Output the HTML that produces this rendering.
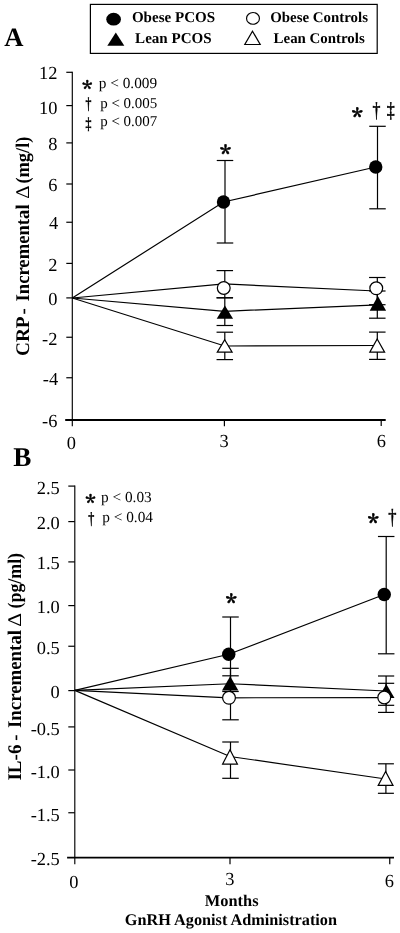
<!DOCTYPE html>
<html lang="en"><head><meta charset="utf-8"><title>Figure</title>
<style>html,body{margin:0;padding:0;background:#fff;}svg{display:block;}text{font-family:"Liberation Serif", "DejaVu Serif", serif;fill:#000;text-rendering:geometricPrecision;}.b{font-weight:bold;}.st{font-family:"Noto Serif CJK SC","Liberation Serif",serif;stroke:#000;stroke-width:0.5;stroke-linejoin:round;}.ln{stroke:#000;stroke-width:1.2;fill:none;}.eb{stroke:#000;stroke-width:1.2;fill:none;}</style></head><body>
<svg width="400" height="933" viewBox="0 0 400 933">
<rect x="0" y="0" width="400" height="933" fill="#fff"/>
<rect x="90.4" y="4.4" width="286.8" height="49" fill="#fff" stroke="#000" stroke-width="1.2"/>
<ellipse cx="113.6" cy="19.2" rx="7.35" ry="6.4" fill="#000"/>
<polygon points="115.8,32.4 124.3,45.7 107.3,45.7" fill="#000"/>
<ellipse cx="253" cy="18.4" rx="6.45" ry="5.85" fill="#fff" stroke="#000" stroke-width="1.15"/>
<polygon points="252.5,31.2 260.2,44.5 244.8,44.5" fill="#fff" stroke="#000" stroke-width="1.2" stroke-linejoin="miter"/>
<text x="131.9" y="22.4" font-size="15.05" text-anchor="start" class="b">Obese PCOS</text>
<text x="135.1" y="42.8" font-size="15.05" text-anchor="start" class="b">Lean PCOS</text>
<text x="270.2" y="22.4" font-size="14.9" text-anchor="start" class="b">Obese Controls</text>
<text x="273.6" y="42.6" font-size="14.9" text-anchor="start" class="b">Lean Controls</text>
<text x="4.3" y="45.7" font-size="26.6" text-anchor="start" class="b">A</text>
<text x="13.3" y="465.5" font-size="27.2" text-anchor="start" class="b">B</text>
<line x1="72.3" y1="71.7" x2="72.3" y2="426.2" class="ln" style="stroke-width:1.15"/>
<line x1="65.2" y1="420" x2="385.7" y2="420" class="ln" style="stroke-width:1.9"/>
<line x1="66.3" y1="72.3" x2="72.3" y2="72.3" class="ln" style="stroke-width:1.2"/>
<text x="57.4" y="79.4" font-size="18.4" text-anchor="end">12</text>
<line x1="66.3" y1="105.6" x2="72.3" y2="105.6" class="ln" style="stroke-width:1.2"/>
<text x="57.4" y="113.75" font-size="18.4" text-anchor="end">10</text>
<line x1="66.3" y1="142.9" x2="72.3" y2="142.9" class="ln" style="stroke-width:1.2"/>
<text x="57.4" y="150.25" font-size="18.4" text-anchor="end">8</text>
<line x1="66.3" y1="184" x2="72.3" y2="184" class="ln" style="stroke-width:1.2"/>
<text x="57.4" y="191.25" font-size="18.4" text-anchor="end">6</text>
<line x1="66.3" y1="222.25" x2="72.3" y2="222.25" class="ln" style="stroke-width:1.2"/>
<text x="58.1" y="229" font-size="18.4" text-anchor="end">4</text>
<line x1="66.3" y1="263.4" x2="72.3" y2="263.4" class="ln" style="stroke-width:1.2"/>
<text x="57.4" y="271" font-size="18.4" text-anchor="end">2</text>
<line x1="66.3" y1="297.9" x2="72.3" y2="297.9" class="ln" style="stroke-width:1.2"/>
<text x="57.4" y="305" font-size="18.4" text-anchor="end">0</text>
<line x1="66.3" y1="337.25" x2="72.3" y2="337.25" class="ln" style="stroke-width:1.2"/>
<text x="57.4" y="344.75" font-size="18.4" text-anchor="end">-2</text>
<line x1="66.3" y1="377.75" x2="72.3" y2="377.75" class="ln" style="stroke-width:1.2"/>
<text x="58.1" y="385" font-size="18.4" text-anchor="end">-4</text>
<text x="57.4" y="427.25" font-size="18.4" text-anchor="end">-6</text>
<line x1="224.4" y1="420" x2="224.4" y2="426.2" class="ln" style="stroke-width:1.2"/>
<line x1="381.2" y1="420" x2="381.2" y2="426.1" class="ln" style="stroke-width:1.2"/>
<text x="71.4" y="449.3" font-size="18.4" text-anchor="middle">0</text>
<text x="224.2" y="446.9" font-size="18.4" text-anchor="middle">3</text>
<text x="381.4" y="446.9" font-size="18.4" text-anchor="middle">6</text>
<text transform="translate(28.7,356) rotate(-90) scale(1,1.004)" font-size="19.26" class="b">CRP</text>
<text transform="translate(28.7,314.5) rotate(-90) scale(1,1.034)" font-size="18.7" class="b">-</text>
<text transform="translate(28.7,301.5) rotate(-90) scale(1,1.036)" font-size="18.67" class="b">Incremental</text>
<text transform="translate(28.7,198.7) rotate(-90) scale(1,0.930)" font-size="20.8">Δ</text>
<text transform="translate(28.7,183.6) rotate(-90) scale(1,1.051)" font-size="18.4" class="b">(mg/l)</text>
<text x="98.8" y="87.8" font-size="15.3" text-anchor="start">p &lt; 0.009</text>
<text x="100.2" y="107.6" font-size="14.95" text-anchor="start">p &lt; 0.005</text>
<text x="100.2" y="126.3" font-size="14.95" text-anchor="start">p &lt; 0.007</text>
<text x="87.3" y="96.966" font-size="20.6" text-anchor="middle" class="b st">*</text>
<text transform="translate(88.4,109.124) scale(0.72,1)" x="0" y="0" font-size="16.4" text-anchor="middle" stroke="#000" stroke-width="0.55">†</text>
<text transform="translate(88.4,128.524) scale(0.72,1)" x="0" y="0" font-size="16.4" text-anchor="middle" stroke="#000" stroke-width="0.55">‡</text>
<polyline points="72.3,298 223.5,202 375.75,167" class="ln"/>
<polyline points="72.3,298 224,283.9 376.2,291" class="ln"/>
<polyline points="72.3,298 224.65,311.3 378,304.8" class="ln"/>
<polyline points="72.3,298 224.75,346 377,345.5" class="ln"/>
<line x1="225" y1="160.5" x2="225" y2="243" class="eb"/>
<line x1="216.75" y1="160.5" x2="233.25" y2="160.5" class="eb"/>
<line x1="216.75" y1="243" x2="233.25" y2="243" class="eb"/>
<line x1="224.8" y1="270.6" x2="224.8" y2="297.8" class="eb"/>
<line x1="216.55" y1="270.6" x2="233.05" y2="270.6" class="eb"/>
<line x1="216.55" y1="297.8" x2="233.05" y2="297.8" class="eb"/>
<line x1="224.8" y1="297.8" x2="224.8" y2="325.5" class="eb"/>
<line x1="216.55" y1="297.8" x2="233.05" y2="297.8" class="eb"/>
<line x1="216.55" y1="325.5" x2="233.05" y2="325.5" class="eb"/>
<line x1="224.8" y1="332.2" x2="224.8" y2="359.6" class="eb"/>
<line x1="216.55" y1="332.2" x2="233.05" y2="332.2" class="eb"/>
<line x1="216.55" y1="359.6" x2="233.05" y2="359.6" class="eb"/>
<line x1="377.5" y1="126.3" x2="377.5" y2="208.8" class="eb"/>
<line x1="369.25" y1="126.3" x2="385.75" y2="126.3" class="eb"/>
<line x1="369.25" y1="208.8" x2="385.75" y2="208.8" class="eb"/>
<line x1="377.3" y1="277.5" x2="377.3" y2="304.7" class="eb"/>
<line x1="369.05" y1="277.5" x2="385.55" y2="277.5" class="eb"/>
<line x1="369.05" y1="304.7" x2="385.55" y2="304.7" class="eb"/>
<line x1="377.3" y1="291" x2="377.3" y2="318.2" class="eb"/>
<line x1="369.05" y1="291" x2="385.55" y2="291" class="eb"/>
<line x1="369.05" y1="318.2" x2="385.55" y2="318.2" class="eb"/>
<line x1="377.3" y1="332.1" x2="377.3" y2="359.4" class="eb"/>
<line x1="369.05" y1="332.1" x2="385.55" y2="332.1" class="eb"/>
<line x1="369.05" y1="359.4" x2="385.55" y2="359.4" class="eb"/>
<circle cx="223.5" cy="202" r="6.7" fill="#000"/>
<polygon points="224.9,305.5 233.1,318.8 216.7,318.8" fill="#000"/>
<circle cx="223.75" cy="288" r="6.4" fill="#fff" stroke="#000" stroke-width="1.2"/>
<polygon points="224.7,339.7 232.1,352.1 217.3,352.1" fill="#fff" stroke="#000" stroke-width="1.2" stroke-linejoin="miter"/>
<circle cx="375.75" cy="167" r="6.7" fill="#000"/>
<circle cx="376.25" cy="288.3" r="6.4" fill="#fff" stroke="#000" stroke-width="1.2"/>
<polygon points="377.9,296 386.1,310.8 369.7,310.8" fill="#000"/>
<polygon points="377.2,339 384.6,352.1 369.8,352.1" fill="#fff" stroke="#000" stroke-width="1.2" stroke-linejoin="miter"/>
<text x="225.4" y="163.086" font-size="22.6" text-anchor="middle" class="b st">*</text>
<text x="357.2" y="125.686" font-size="22.6" text-anchor="middle" class="b st">*</text>
<text transform="translate(376.4,117.274) scale(0.74,1)" x="0" y="0" font-size="21.4" text-anchor="middle" stroke="#000" stroke-width="0.55">†</text>
<text transform="translate(390.7,117.274) scale(0.74,1)" x="0" y="0" font-size="21.4" text-anchor="middle" stroke="#000" stroke-width="0.55">‡</text>
<line x1="74.8" y1="485.5" x2="74.8" y2="864.2" class="ln" style="stroke-width:1.15"/>
<line x1="67.1" y1="857.6" x2="394" y2="857.6" class="ln" style="stroke-width:1.9"/>
<line x1="68.3" y1="486.1" x2="74.8" y2="486.1" class="ln" style="stroke-width:1.2"/>
<text x="59.8" y="494" font-size="18.4" text-anchor="end">2.5</text>
<line x1="68.3" y1="521.6" x2="74.8" y2="521.6" class="ln" style="stroke-width:1.2"/>
<text x="59.8" y="528.75" font-size="18.4" text-anchor="end">2.0</text>
<line x1="68.3" y1="561.9" x2="74.8" y2="561.9" class="ln" style="stroke-width:1.2"/>
<text x="59.8" y="569.4" font-size="18.4" text-anchor="end">1.5</text>
<line x1="68.3" y1="605.6" x2="74.8" y2="605.6" class="ln" style="stroke-width:1.2"/>
<text x="59.8" y="613.1" font-size="18.4" text-anchor="end">1.0</text>
<line x1="68.3" y1="646.25" x2="74.8" y2="646.25" class="ln" style="stroke-width:1.2"/>
<text x="59.8" y="653.75" font-size="18.4" text-anchor="end">0.5</text>
<line x1="68.3" y1="690.6" x2="74.8" y2="690.6" class="ln" style="stroke-width:1.2"/>
<text x="59.8" y="697.9" font-size="18.4" text-anchor="end">0</text>
<line x1="68.3" y1="726.9" x2="74.8" y2="726.9" class="ln" style="stroke-width:1.2"/>
<text x="59.8" y="735" font-size="18.4" text-anchor="end">-0.5</text>
<line x1="68.3" y1="770" x2="74.8" y2="770" class="ln" style="stroke-width:1.2"/>
<text x="59.8" y="777.75" font-size="18.4" text-anchor="end">-1.0</text>
<line x1="68.3" y1="812.75" x2="74.8" y2="812.75" class="ln" style="stroke-width:1.2"/>
<text x="59.8" y="820.6" font-size="18.4" text-anchor="end">-1.5</text>
<text x="59.8" y="865.4" font-size="18.4" text-anchor="end">-2.5</text>
<line x1="230" y1="857.6" x2="230" y2="864.2" class="ln" style="stroke-width:1.2"/>
<line x1="389.75" y1="857.6" x2="389.75" y2="864.2" class="ln" style="stroke-width:1.2"/>
<text x="73.9" y="888.2" font-size="18.4" text-anchor="middle">0</text>
<text x="229.9" y="884.9" font-size="18.4" text-anchor="middle">3</text>
<text x="389.4" y="886.5" font-size="18.4" text-anchor="middle">6</text>
<text transform="translate(20.7,780.6) rotate(-90) scale(1,1.012)" font-size="19.1" class="b">IL-6</text>
<text transform="translate(20.7,740.8) rotate(-90) scale(1,1.034)" font-size="18.7" class="b">-</text>
<text transform="translate(20.7,728) rotate(-90) scale(1,1.026)" font-size="18.85" class="b">Incremental</text>
<text transform="translate(20.7,626.7) rotate(-90) scale(1,0.891)" font-size="21.7">Δ</text>
<text transform="translate(20.7,608.5) rotate(-90) scale(1,1.083)" font-size="17.86" class="b">(pg/ml)</text>
<text x="204.8" y="906" font-size="16.4" text-anchor="start" class="b">Months</text>
<text x="124.8" y="925.3" font-size="16.25" text-anchor="start" class="b">GnRH Agonist Administration</text>
<polyline points="74.8,690.4 228.75,654.25 384.25,594.5" class="ln"/>
<polyline points="74.8,690.4 230,683.75 385.75,691" class="ln"/>
<polyline points="74.8,690.4 229,697.8 384.25,697.6" class="ln"/>
<polyline points="74.8,690.4 230,756.5 385.75,779" class="ln"/>
<line x1="230.5" y1="617" x2="230.5" y2="691.5" class="eb"/>
<line x1="222.25" y1="617" x2="238.75" y2="617" class="eb"/>
<line x1="222.25" y1="691.5" x2="238.75" y2="691.5" class="eb"/>
<line x1="230.5" y1="668.3" x2="230.5" y2="697" class="eb"/>
<line x1="222.25" y1="668.3" x2="238.75" y2="668.3" class="eb"/>
<line x1="230.5" y1="675.8" x2="230.5" y2="719.8" class="eb"/>
<line x1="222.25" y1="675.8" x2="238.75" y2="675.8" class="eb"/>
<line x1="222.25" y1="719.8" x2="238.75" y2="719.8" class="eb"/>
<line x1="230.5" y1="742" x2="230.5" y2="778.3" class="eb"/>
<line x1="222.25" y1="742" x2="238.75" y2="742" class="eb"/>
<line x1="222.25" y1="778.3" x2="238.75" y2="778.3" class="eb"/>
<line x1="386.2" y1="536.5" x2="386.2" y2="653.8" class="eb"/>
<line x1="377.95" y1="536.5" x2="394.45" y2="536.5" class="eb"/>
<line x1="377.95" y1="653.8" x2="394.45" y2="653.8" class="eb"/>
<line x1="386.1" y1="676" x2="386.1" y2="705.3" class="eb"/>
<line x1="378" y1="676" x2="394.2" y2="676" class="eb"/>
<line x1="378" y1="705.3" x2="394.2" y2="705.3" class="eb"/>
<line x1="386.1" y1="683.3" x2="386.1" y2="712.4" class="eb"/>
<line x1="378" y1="683.3" x2="394.2" y2="683.3" class="eb"/>
<line x1="378" y1="712.4" x2="394.2" y2="712.4" class="eb"/>
<line x1="385.9" y1="763.8" x2="385.9" y2="793.3" class="eb"/>
<line x1="377.9" y1="763.8" x2="393.9" y2="763.8" class="eb"/>
<line x1="377.9" y1="793.3" x2="393.9" y2="793.3" class="eb"/>
<circle cx="228.75" cy="654.25" r="6.7" fill="#000"/>
<polygon points="230.2,676.3 238.4,690.5 222,690.5" fill="#000"/>
<circle cx="229" cy="697.8" r="6.4" fill="#fff" stroke="#000" stroke-width="1.2"/>
<polygon points="230,749.7 237.4,764.1 222.6,764.1" fill="#fff" stroke="#000" stroke-width="1.2" stroke-linejoin="miter"/>
<circle cx="384.25" cy="594.5" r="6.7" fill="#000"/>
<polygon points="386.3,683.9 394.5,698 378.1,698" fill="#000"/>
<circle cx="384.25" cy="697.5" r="6.4" fill="#fff" stroke="#000" stroke-width="1.2"/>
<polygon points="385.6,771.5 393,785.4 378.2,785.4" fill="#fff" stroke="#000" stroke-width="1.2" stroke-linejoin="miter"/>
<text x="231.3" y="611.586" font-size="22.6" text-anchor="middle" class="b st">*</text>
<text x="373.2" y="531.886" font-size="22.6" text-anchor="middle" class="b st">*</text>
<text transform="translate(392.4,523.756) scale(0.76,1)" x="0" y="0" font-size="21.6" text-anchor="middle" stroke="#000" stroke-width="0.55">†</text>
<text x="90.4" y="510.966" font-size="20.6" text-anchor="middle" class="b st">*</text>
<text transform="translate(91.25,524.088) scale(0.72,1)" x="0" y="0" font-size="16.8" text-anchor="middle" stroke="#000" stroke-width="0.55">†</text>
<text x="101" y="502" font-size="15.3" text-anchor="start">p &lt; 0.03</text>
<text x="102.3" y="522.4" font-size="15.3" text-anchor="start">p &lt; 0.04</text>
</svg>
</body></html>
